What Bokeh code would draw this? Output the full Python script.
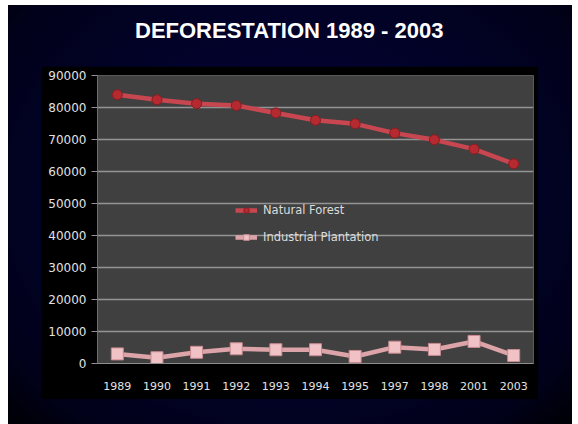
from bokeh.plotting import figure
from bokeh.layouts import column
from bokeh.models import (FactorRange, Range1d, FixedTicker, NumeralTickFormatter,
                          Legend, LegendItem, Label)
from bokeh.embed import file_html
from bokeh.resources import INLINE

# ---- data ----
title_text = "DEFORESTATION 1989 - 2003"
years = ["1989", "1990", "1991", "1992", "1993", "1994", "1995", "1997", "1998", "2001", "2003"]
natural_forest = [84000, 82400, 81200, 80600, 78300, 76000, 74900, 72000, 69900, 67000, 62400]
industrial_plantation = [3000, 1800, 3500, 4600, 4300, 4300, 2200, 5100, 4400, 6900, 2500]
y_ticks = [0, 10000, 20000, 30000, 40000, 50000, 60000, 70000, 80000, 90000]
series_names = ["Natural Forest", "Industrial Plantation"]

LABEL_FONT = "DejaVu Sans"
W = 564

# ---- title strip ----
tf = figure(width=W, height=61, x_range=Range1d(0, 1), y_range=Range1d(0, 1),
            x_axis_location=None, y_axis_location=None, toolbar_location=None,
            output_backend="svg", min_border=0)
tf.background_fill_color = None
tf.border_fill_color = None
tf.outline_line_color = None
tf.xgrid.visible = False
tf.ygrid.visible = False
tf.add_layout(Label(x=0.5 - 30.0 / W, y=0.59, text=title_text, text_align="center",
                    text_baseline="middle",
                    text_font="Liberation Sans", text_font_style="bold",
                    text_font_size="22px", text_color="#ffffff"))

# ---- main chart ----
p = figure(width=497, height=333, x_range=FactorRange(factors=years),
           y_range=Range1d(0, 90000), toolbar_location=None, output_backend="svg",
           min_border_left=56, min_border_right=5, min_border_top=9, min_border_bottom=36)
p.margin = (0, 34, 25, 33)
p.border_fill_color = "#000000"
p.background_fill_color = "#404040"
p.outline_line_color = "#5a5a5a"

p.xgrid.visible = False
p.ygrid.grid_line_color = "#949494"
p.ygrid.grid_line_width = 1.6

p.yaxis.ticker = FixedTicker(ticks=y_ticks)
p.yaxis.formatter = NumeralTickFormatter(format="0")
p.yaxis.minor_tick_line_color = None
p.yaxis.major_tick_out = 6
p.yaxis.major_tick_in = 0
p.yaxis.major_tick_line_color = "#8e8e8e"
p.yaxis.major_label_standoff = 5
p.yaxis.axis_line_color = "#6e6e6e"

p.xaxis.major_tick_line_color = None
p.xaxis.major_tick_out = 0
p.xaxis.major_tick_in = 0
p.xaxis.major_label_standoff = 18
p.xaxis.axis_line_color = "#8e8e8e"

for ax in (p.xaxis, p.yaxis):
    ax.major_label_text_font = LABEL_FONT
    ax.major_label_text_color = "#e2e2e2"
p.xaxis.major_label_text_font_size = "11px"
p.yaxis.major_label_text_font_size = "12px"

l1 = p.line(years, natural_forest, line_color="#c84650", line_width=4.5)
s1 = p.scatter(years, natural_forest, marker="circle", size=10,
               fill_color="#b52a30", line_color="#8a1c20", line_width=1)
l2 = p.line(years, industrial_plantation, line_color="#dca4a8", line_width=4.5)
s2 = p.scatter(years, industrial_plantation, marker="square", size=12,
               fill_color="#f0c2c6", line_color="#c98a90", line_width=1)

legend = Legend(items=[LegendItem(label=series_names[0], renderers=[l1, s1]),
                       LegendItem(label=series_names[1], renderers=[l2, s2])],
                location=(138, 116), background_fill_alpha=0, border_line_color=None,
                label_text_color="#dcdcdc", label_text_font=LABEL_FONT,
                label_text_font_size="11.5px", glyph_width=22, glyph_height=14,
                label_height=20, spacing=7, padding=0, margin=0, label_standoff=6)
p.add_layout(legend)

layout = column(tf, p, spacing=0, styles={
    "background": "radial-gradient(ellipse at 50% 45%, #04043a 0%, #020228 55%, #01011a 85%, #000005 100%)"
})
layout.margin = (5, 0, 0, 8)

open("out.html", "w").write(file_html(layout, INLINE))
